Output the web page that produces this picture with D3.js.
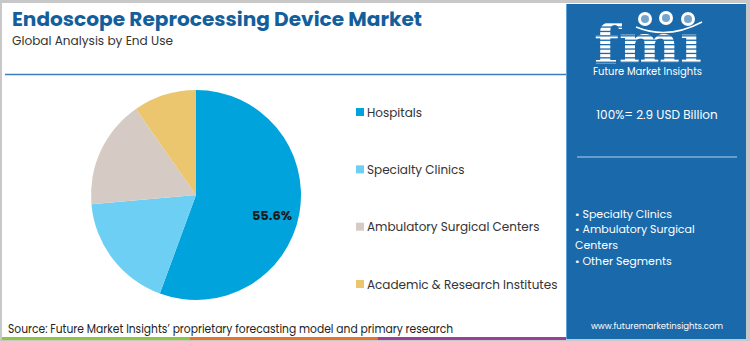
<!DOCTYPE html>
<html><head><meta charset="utf-8">
<script src="https://cdn.jsdelivr.net/npm/d3@7"></script>
<style>html,body{margin:0;padding:0;background:#fff;}svg{display:block;}</style>
</head><body>
<svg id="c" width="750" height="341"></svg>
<script>
const categories = ["Hospitals", "Specialty Clinics", "Ambulatory Surgical Centers", "Academic & Research Institutes"];
const shares = [55.6, 18.0, 16.7, 9.7];
const colors = ["#00a3dc", "#6ecff4", "#d6cac5", "#ebc66e"];
const panelBullets = ["• Specialty Clinics", "• Ambulatory Surgical", "Centers", "• Other Segments"];
const totalLabel = "100%= 2.9 USD Billion";

const svg = d3.select("#c");
const F = "'Poppins','Open Sans','Noto Sans',sans-serif";

// frame
svg.append("rect").attr("x",0).attr("y",0).attr("width",750).attr("height",341).attr("fill","#c8c8c8");
svg.append("rect").attr("x",2).attr("y",3).attr("width",744).attr("height",336).attr("fill","#fff");

// right panel
svg.append("rect").attr("x",566).attr("y",4).attr("width",180).attr("height",335).attr("fill","#1a69aa");
svg.append("line").attr("x1",566.5).attr("x2",566.5).attr("y1",4).attr("y2",339).attr("stroke","#5fa3d6").attr("stroke-width",1);

// bottom stripes
const stripeCols = ["#8dc63f","#e8742a","#9b3f97"];
stripeCols.forEach((c,i)=>{
  svg.append("rect").attr("x",2+i*188).attr("y",337).attr("width",188).attr("height",3).attr("fill",c);
});

// title
svg.append("text").attr("x",12).attr("y",26).attr("font-family",F).attr("font-weight",700)
  .attr("font-size",20).attr("fill","#135f9c").attr("textLength",410).attr("lengthAdjust","spacingAndGlyphs")
  .text("Endoscope Reprocessing Device Market");
svg.append("text").attr("x",12).attr("y",45).attr("font-family",F).attr("font-size",12.5)
  .attr("fill","#333").attr("textLength",161).attr("lengthAdjust","spacingAndGlyphs")
  .text("Global Analysis by End Use");
svg.append("line").attr("x1",5).attr("x2",566).attr("y1",74.5).attr("y2",74.5)
  .attr("stroke","#3b7fc0").attr("stroke-width",1.5);

// pie
const cx = 196, cy = 195, r = 105;
const pie = d3.pie().sort(null).value(d=>d)(shares);
const arc = d3.arc().innerRadius(0).outerRadius(r);
const g = svg.append("g").attr("transform",`translate(${cx},${cy})`);
g.selectAll("path").data(pie).join("path").attr("d",arc).attr("fill",(d,i)=>colors[i]);
g.append("text").attr("x",76).attr("y",24.5).attr("text-anchor","middle")
  .attr("font-family",F).attr("font-weight",700).attr("font-size",13).attr("fill","#1a1a1a")
  .text(shares[0].toFixed(1)+"%");

// legend
const ly = d3.scalePoint().domain(categories).range([112,284]);
const lg = svg.append("g");
categories.forEach((c,i)=>{
  lg.append("rect").attr("x",356).attr("y",ly(c)-4).attr("width",8).attr("height",8).attr("fill",colors[i]);
  lg.append("text").attr("x",367).attr("y",ly(c)+4.5).attr("font-family",F).attr("font-size",12)
    .attr("fill","#333").text(c);
});

// logo
const logo = svg.append("g");
logo.append("text").attr("x",594).attr("y",63).attr("font-family","'DejaVu Serif','Liberation Serif',serif")
  .attr("font-weight",900).attr("font-size",54).attr("fill","#fff").attr("textLength",108)
  .attr("lengthAdjust","spacingAndGlyphs").text("fmı");
for(let y=22;y<64;y+=4.4){
  logo.append("rect").attr("x",590).attr("y",y).attr("width",115).attr("height",1.3).attr("fill","#1a69aa");
}
[[645,19],[666,18],[688,19]].forEach(([x,y])=>{
  logo.append("circle").attr("cx",x).attr("cy",y).attr("r",7).attr("fill","#fff");
  logo.append("circle").attr("cx",x).attr("cy",y).attr("r",4).attr("fill","#1a69aa").attr("opacity",0.6);
});
logo.append("path").attr("d","M636,27 Q668,40 702,22").attr("fill","none").attr("stroke","#fff").attr("stroke-width",1.5);
logo.append("text").attr("x",593).attr("y",75).attr("font-family",F).attr("font-size",10.5).attr("fill","#fff")
  .attr("textLength",109).attr("lengthAdjust","spacingAndGlyphs").text("Future Market Insights");

// panel text
svg.append("text").attr("x",657).attr("y",119).attr("text-anchor","middle").attr("font-family",F)
  .attr("font-size",12).attr("fill","#fff").text(totalLabel);
svg.append("line").attr("x1",577).attr("x2",737).attr("y1",157).attr("y2",157).attr("stroke","#b8d4ee").attr("stroke-width",1.2);
const by = [218,233,249,265];
panelBullets.forEach((t,i)=>{
  svg.append("text").attr("x",575).attr("y",by[i]).attr("font-family",F).attr("font-size",11)
    .attr("fill","#fff").text(t);
});
svg.append("text").attr("x",657).attr("y",329).attr("text-anchor","middle").attr("font-family",F)
  .attr("font-size",8.5).attr("fill","#fff").text("www.futuremarketinsights.com");

// source
svg.append("text").attr("x",8).attr("y",333).attr("font-family",F).attr("font-size",12)
  .attr("fill","#222").attr("textLength",445).attr("lengthAdjust","spacingAndGlyphs")
  .text("Source: Future Market Insights’ proprietary forecasting model and primary research");
</script>
</body></html>
